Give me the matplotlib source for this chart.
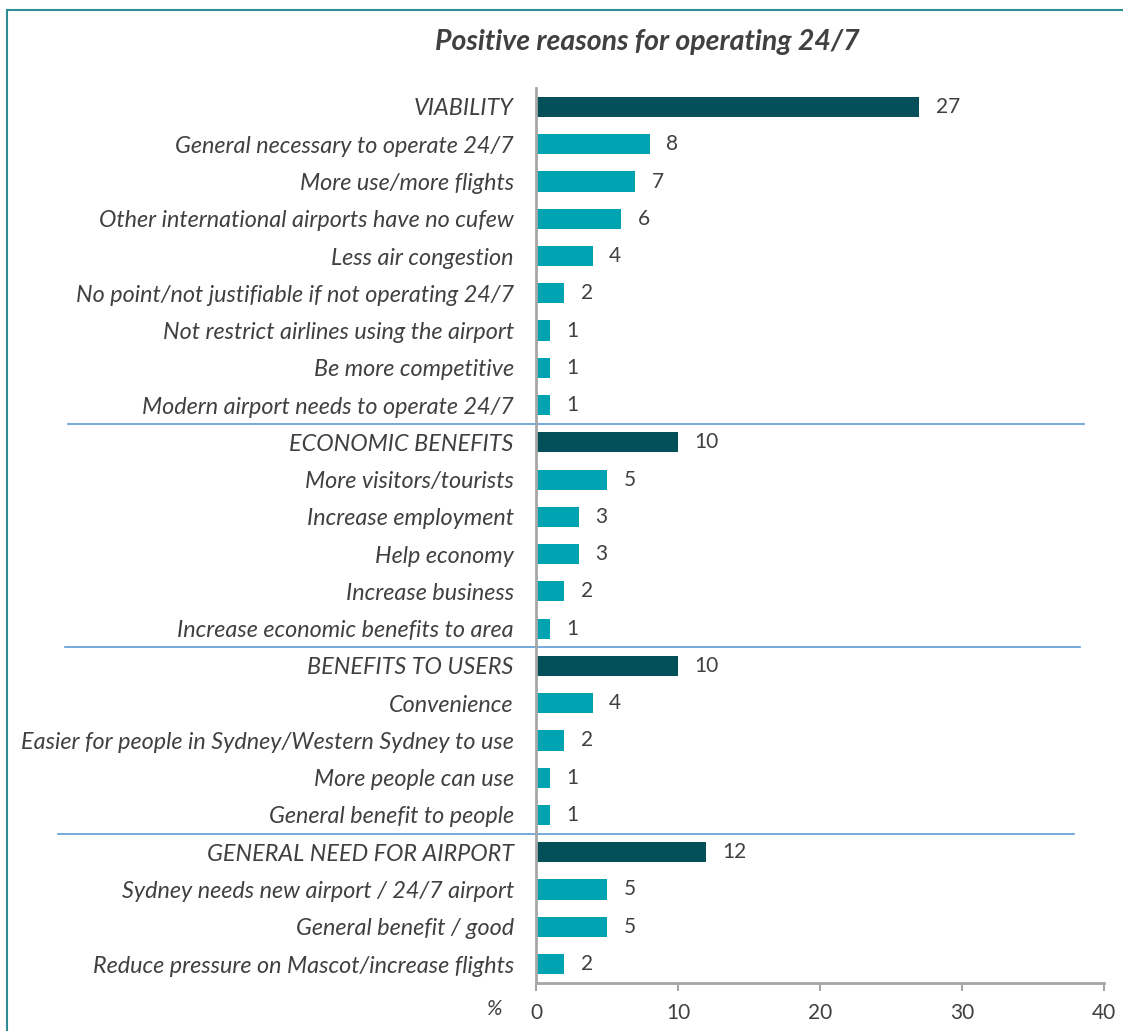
import matplotlib
matplotlib.use("Agg")
import matplotlib.pyplot as plt
from matplotlib.transforms import blended_transform_factory
from matplotlib.patches import Rectangle
import numpy as np

labels = ['VIABILITY', 'General necessary to operate 24/7', 'More use/more flights',
          'Other international airports have no cufew', 'Less air congestion',
          'No point/not justifiable if not operating 24/7',
          'Not restrict airlines using the airport', 'Be more competitive',
          'Modern airport needs to operate 24/7',
          'ECONOMIC BENEFITS', 'More visitors/tourists', 'Increase employment',
          'Help economy', 'Increase business', 'Increase economic benefits to area',
          'BENEFITS TO USERS', 'Convenience',
          'Easier for people in Sydney/Western Sydney to use', 'More people can use',
          'General benefit to people',
          'GENERAL NEED FOR AIRPORT', 'Sydney needs new airport / 24/7 airport',
          'General benefit / good', 'Reduce pressure on Mascot/increase flights']
values = [27, 8, 7, 6, 4, 2, 1, 1, 1,
          10, 5, 3, 3, 2, 1,
          10, 4, 2, 1, 1,
          12, 5, 5, 2]
headers = ['VIABILITY', 'ECONOMIC BENEFITS', 'BENEFITS TO USERS', 'GENERAL NEED FOR AIRPORT']
xticks = [0, 10, 20, 30, 40]

dark = '#03505a'
light = '#00a3b1'
txt = '#404040'
plt.rcParams['font.family'] = ['Lato', 'DejaVu Sans']

fig = plt.figure(figsize=(11.23, 10.31), dpi=100)
ax = fig.add_axes([0.4773, 0.0469, 0.5058, 0.8674])

y = np.arange(len(labels))
colors = [dark if l in headers else light for l in labels]
ax.barh(y, values, height=0.54, color=colors)
for yi, v in zip(y, values):
    ax.text(v + 1.15, yi, str(v), va='center', ha='left', fontsize=15, color=txt)

ax.set_ylim(len(labels) - 0.5, -0.5)
ax.set_xlim(0, 40)
ax.set_yticks(y)
ax.set_yticklabels(labels, fontsize=16.8, style='italic', color=txt)
ax.tick_params(axis='y', length=0, pad=16)
ax.set_xticks(xticks)
ax.tick_params(axis='x', length=6, width=1.5, color='#a6a6a6', labelsize=15,
               labelcolor=txt, pad=9)
for s in ['top', 'right']:
    ax.spines[s].set_visible(False)
ax.spines['left'].set_color('#a6a6a6')
ax.spines['left'].set_linewidth(2)
ax.spines['bottom'].set_color('#a6a6a6')
ax.spines['bottom'].set_linewidth(2)

# group separators running across the label area
tr = blended_transform_factory(fig.transFigure, ax.transData)
for yy, x0, x1 in [(8.5, 0.0606, 0.9653), (14.5, 0.0579, 0.9617), (19.5, 0.0516, 0.9564)]:
    ax.plot([x0, x1], [yy, yy], transform=tr, color='#5b9bd5', lw=1.2, clip_on=False)

fig.text(0.44, 0.021, '%', fontsize=15, style='italic', color=txt, ha='center', va='center')
fig.text(0.576, 0.959, 'Positive reasons for operating 24/7', fontsize=20.5,
         style='italic', weight='bold', color=txt, ha='center', va='center')

fig.add_artist(Rectangle((0.0065, -0.05), 1.1, 1.04, transform=fig.transFigure,
                         fill=False, edgecolor='#2f8c94', lw=1.5))

fig.savefig('out.png', dpi=100)
